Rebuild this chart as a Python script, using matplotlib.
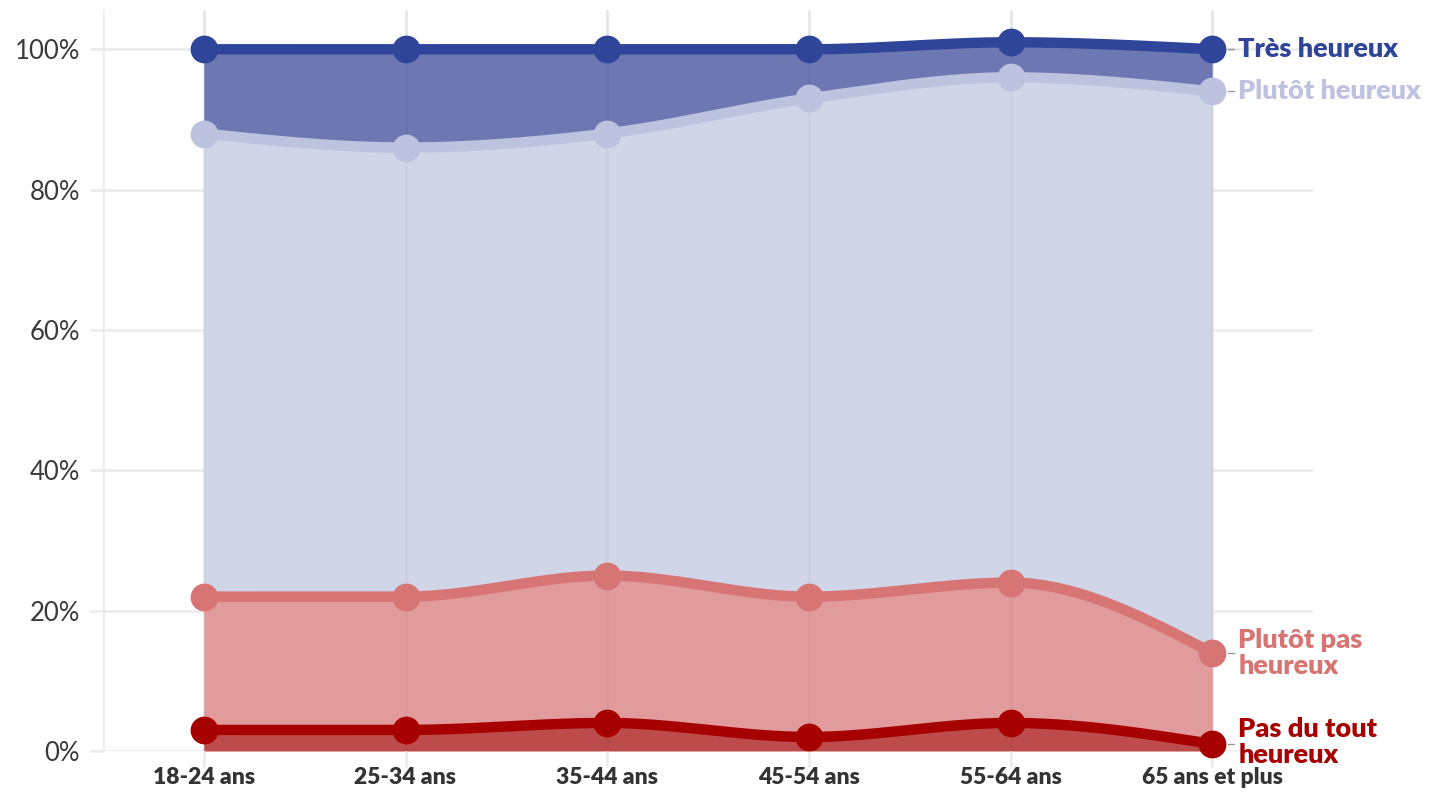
import numpy as np
import matplotlib
matplotlib.use('Agg')
import matplotlib.pyplot as plt

categories = ['18-24 ans', '25-34 ans', '35-44 ans', '45-54 ans', '55-64 ans', '65 ans et plus']

# parts en % (du bas vers le haut)
pas_du_tout = [3, 3, 4, 2, 4, 1]
plutot_pas = [19, 19, 21, 20, 20, 13]
plutot_heureux = [66, 64, 63, 71, 72, 80]
tres_heureux = [12, 14, 12, 7, 5, 6]

series_names = ['Pas du tout\nheureux', 'Plutôt pas\nheureux', 'Plutôt heureux', 'Très heureux']
line_colors = ['#a60000', '#d77474', '#bdc2df', '#2f4599']
fill_colors = ['#bd4b4b', '#e19b9c', '#d0d5e8', '#6d78b3']

plt.rcParams['font.family'] = ['Lato', 'DejaVu Sans']


def monotone(x, y, n=40):
    # interpolation monotone (comme d3.curveMonotoneX)
    x = np.asarray(x, float)
    y = np.asarray(y, float)
    h = np.diff(x)
    s = np.diff(y) / h
    m = np.zeros_like(y)
    for i in range(1, len(y) - 1):
        if s[i - 1] * s[i] <= 0:
            m[i] = 0
        else:
            p = (s[i - 1] * h[i] + s[i] * h[i - 1]) / (h[i - 1] + h[i])
            m[i] = (np.sign(s[i - 1]) + np.sign(s[i])) * min(abs(s[i - 1]), abs(s[i]), 0.5 * abs(p))
    m[0] = (3 * s[0] - m[1]) / 2 if len(y) > 2 else s[0]
    m[-1] = (3 * s[-1] - m[-2]) / 2 if len(y) > 2 else s[-1]
    xs, ys = [], []
    for i in range(len(x) - 1):
        t = np.linspace(0, 1, n)
        h00 = 2 * t**3 - 3 * t**2 + 1
        h10 = t**3 - 2 * t**2 + t
        h01 = -2 * t**3 + 3 * t**2
        h11 = t**3 - t**2
        xs.append(x[i] + t * h[i])
        ys.append(h00 * y[i] + h10 * h[i] * m[i] + h01 * y[i + 1] + h11 * h[i] * m[i + 1])
    return np.concatenate(xs), np.concatenate(ys)


shares = np.array([pas_du_tout, plutot_pas, plutot_heureux, tres_heureux], float)
cum = np.cumsum(shares, axis=0)
x = np.arange(len(categories))

fig = plt.figure(figsize=(14.39, 7.92), dpi=100)
ax = fig.add_axes([103 / 1439, 41 / 792, 1210 / 1439, 741 / 792])
ax.set_xlim(-0.5, 5.5)
ax.set_ylim(0, 105.6)

grid_c = '#ebebeb'
for v in range(0, 101, 20):
    ax.axhline(v, color=grid_c, lw=1.8, zorder=0)
ax.axvline(-0.5, color=grid_c, lw=1.8, zorder=0)
for xi in x:
    ax.axvline(xi, color=grid_c, lw=1.8, zorder=0)

lower_s = monotone(x, np.zeros(len(x)))[1]
for k in range(4):
    xs, ys = monotone(x, cum[k])
    ax.fill_between(xs, lower_s, ys, color=fill_colors[k], lw=0, zorder=1)
    lower_s = ys

# grille verticale visible à travers les aires
for xi in x:
    ax.axvline(xi, color='black', alpha=0.025, lw=1.8, zorder=2)

for k in range(4):
    xs, ys = monotone(x, cum[k])
    ax.plot(xs, ys, color=line_colors[k], lw=7.5, solid_capstyle='round', zorder=3 + k)
    ax.plot(x, cum[k], 'o', color=line_colors[k], ms=19, zorder=3 + k, clip_on=False)

label_off = [0.3, 0, 0, 0]
for k in range(4):
    yv = cum[k][-1]
    ax.plot([5.08, 5.11], [yv, yv], color='#999999', lw=1, clip_on=False, zorder=2)
    ax.text(5.13, yv + label_off[k], series_names[k], color=line_colors[k], fontsize=19.5,
            fontweight='heavy', va='center', ha='left', linespacing=1.08, clip_on=False)

ax.set_xticks(x)
ax.set_xticklabels(categories, fontsize=16.5, fontweight='heavy', color='#333333')
ax.set_yticks(range(0, 101, 20))
ax.set_yticklabels([f'{v}%' for v in range(0, 101, 20)], fontsize=18.5, color='#3a3a3a')
ax.tick_params(axis='y', length=9.5, width=1.8, color=grid_c, pad=7)
ax.tick_params(axis='x', length=11.5, width=1.8, color=grid_c, pad=0)
for s in ax.spines.values():
    s.set_visible(False)

fig.savefig('out.png', dpi=100)
